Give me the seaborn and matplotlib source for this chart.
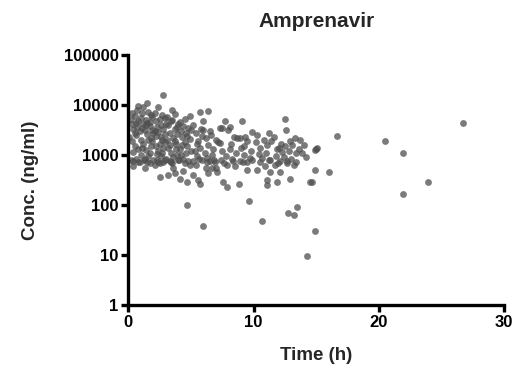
import matplotlib
matplotlib.use("Agg")
import matplotlib.pyplot as plt
import seaborn as sns
import pandas as pd
from matplotlib.ticker import FixedLocator, FixedFormatter, NullLocator

# Amprenavir concentration vs time
time_h = [
    # 0-1 h
    0.2, 0.3, 0.4, 0.5, 0.6, 0.3, 0.5, 0.7, 0.8, 0.9, 0.4, 0.6, 0.2, 0.8, 1.0, 1.0, 0.9, 0.5, 0.7, 0.3, 0.1, 0.6, 0.8, 0.4, 1.0,
    # 1-2 h
    1.1, 1.2, 1.3, 1.4, 1.5, 1.6, 1.7, 1.8, 1.9, 1.2, 1.4, 1.6, 1.8, 1.3, 1.5, 1.1, 1.7, 1.9, 2.0, 1.2, 1.5, 1.8, 1.3, 1.9, 1.6, 1.1, 1.4, 1.7, 2.0, 1.5,
    # 2-3 h
    2.1, 2.2, 2.3, 2.4, 2.5, 2.6, 2.7, 2.8, 2.9, 3.0, 2.2, 2.4, 2.6, 2.8, 2.3, 2.5, 2.7, 2.9, 2.1, 2.4, 2.8, 2.6, 2.9, 2.2, 2.5, 2.7, 3.0, 2.3, 2.8, 2.1, 2.55,
    # 3-4 h
    3.1, 3.2, 3.3, 3.4, 3.5, 3.6, 3.7, 3.8, 3.9, 4.0, 3.2, 3.4, 3.6, 3.8, 3.3, 3.5, 3.7, 3.9, 3.1, 3.5, 3.7, 3.2, 3.75, 3.9, 3.3, 4.0, 3.6,
    # 4-5 h
    4.1, 4.2, 4.3, 4.4, 4.5, 4.6, 4.7, 4.8, 4.9, 5.0, 4.2, 4.4, 4.6, 4.8, 4.3, 4.95, 4.5, 4.15, 4.68, 4.68, 4.9, 4.4, 4.7, 4.1, 5.0,
    # 5-7 h
    5.2, 5.4, 5.6, 5.8, 6.0, 6.2, 6.4, 6.6, 6.8, 7.0, 5.3, 5.5, 5.7, 5.9, 6.1, 6.3, 6.5, 6.7, 6.9, 5.74, 6.4, 6.0, 5.2, 5.74, 5.6, 6.4, 6.68, 7.08, 6.0, 5.5, 6.5, 5.9, 6.2, 5.4,
    # 7-10 h
    7.2, 7.34, 7.34, 7.47, 7.72, 8.0, 8.14, 8.4, 8.66, 8.94, 9.05, 9.2, 9.5, 9.87, 7.5, 7.8, 8.1, 8.3, 8.6, 8.9, 9.2, 9.5, 9.8, 7.6, 7.87, 8.8, 9.47, 7.9, 8.5, 9.6, 7.4, 8.2, 9.0, 9.7, 7.0, 9.3,
    # 10-13.7 h
    10.2, 10.5, 10.8, 11.1, 11.4, 11.6, 11.9, 12.2, 12.5, 12.8, 13.1, 13.4, 10.4, 10.7, 11.0, 11.3, 11.8, 12.1, 12.4, 12.7, 13.0, 13.3, 13.7, 12.5, 12.6, 10.27, 11.07, 11.07, 11.87, 11.33, 12.12, 12.93, 13.2, 10.67, 12.74, 13.24, 13.5, 11.2, 12.0, 12.9, 10.9, 11.7, 13.6, 12.3, 10.3,
    # band of trough samples around 700-850 ng/ml
    0.35, 0.75, 1.25, 1.75, 2.35, 2.95, 3.45, 4.05, 4.55, 5.15, 5.65, 6.25, 6.85, 7.65, 8.35, 9.15, 9.85, 10.55, 11.25, 11.95, 12.65, 13.35,
    # late samples
    13.86, 14.26, 14.5, 14.66, 14.9, 14.9, 14.9, 14.98, 15.05, 16.0, 16.65, 20.5, 21.96, 21.9, 23.96, 26.75, 14.2, 14.0,
]

conc = [
    # 0-1 h
    5200, 4100, 3300, 6100, 2500, 1900, 1500, 8000, 4700, 3000, 1150, 850, 780, 1300, 5600, 2000, 720, 2800, 3600, 7000, 2300, 4400, 9500, 600, 1000,
    # 1-2 h
    6800, 4200, 3100, 5000, 2600, 7400, 3800, 2200, 5800, 1700, 1250, 960, 1500, 820, 730, 3500, 4600, 3200, 2700, 9000, 11000, 6300, 560, 1900, 2000, 1400, 3900, 1100, 800, 4300,
    # 2-3 h
    7000, 4800, 3600, 2900, 5300, 2300, 6300, 3300, 1800, 4200, 1500, 1200, 950, 1400, 780, 690, 2000, 2600, 3000, 9330, 15850, 4000, 5600, 2400, 1700, 1100, 850, 1050, 720, 620, 370,
    # 3-4 h
    5800, 3900, 2800, 4700, 8000, 2200, 3300, 1700, 2600, 4200, 1400, 1100, 900, 1300, 750, 680, 1900, 3600, 2000, 5100, 6600, 400, 430, 1000, 1600, 780, 540,
    # 4-5 h
    4600, 3000, 2300, 3800, 1800, 2700, 1500, 3400, 2100, 1200, 1000, 850, 1100, 760, 1600, 6000, 5200, 340, 290, 100, 620, 480, 2400, 1300, 3100,
    # 5-7 h
    4000, 2700, 1900, 3300, 4690, 2200, 1600, 2500, 1300, 2000, 1200, 950, 1400, 780, 1100, 870, 760, 1000, 740, 7300, 7700, 3160, 400, 270, 315, 430, 540, 465, 38.6, 1700, 3000, 2400, 560, 640,
    # 7-10 h
    1800, 3400, 1720, 3400, 4690, 3160, 3660, 2330, 2150, 2150, 4900, 1500, 1900, 2930, 1200, 950, 1300, 820, 1100, 760, 1000, 720, 1200, 290, 230, 270, 500, 640, 600, 120, 800, 1700, 1400, 870, 540, 2300,
    # 10-13.7 h
    1800, 1400, 2000, 1600, 1900, 2330, 1300, 1700, 1500, 1200, 1600, 1100, 1050, 870, 1100, 800, 950, 760, 900, 700, 820, 2150, 2000, 5200, 3160, 500, 315, 250, 290, 465, 465, 340, 630, 48.6, 68, 63, 92, 2700, 1400, 1900, 600, 640, 1300, 1150, 2500,
    # band of trough samples around 700-850 ng/ml
    760, 720, 790, 700, 740, 810, 720, 780, 700, 760, 820, 730, 790, 710, 770, 740, 800, 720, 780, 700, 760, 730,
    # late samples
    1080, 9.5, 295, 290, 500, 30.6, 1260, 1310, 1380, 465, 2410, 1930, 1080, 165, 295, 4330, 900, 1600,
]

y_ticks = [1, 10, 100, 1000, 10000, 100000]
y_tick_labels = ["1", "10", "100", "1000", "10000", "100000"]
x_ticks = [0, 10, 20, 30]

df = pd.DataFrame({"time": time_h, "conc": conc})

sns.set_style("ticks")
plt.rcParams["font.family"] = ["Liberation Sans", "DejaVu Sans"]
plt.rcParams["font.weight"] = "bold"

fig = plt.figure(figsize=(5.15, 3.74), dpi=100)
ax = fig.add_axes([0.249, 0.184, 0.730, 0.669])

sns.scatterplot(data=df, x="time", y="conc", ax=ax, color="#4f4f4f",
                alpha=0.75, s=24, linewidth=0, marker="o", legend=False)

ax.set_yscale("log")
ax.set_ylim(1, 100000)
ax.set_xlim(0, 30)
ax.yaxis.set_major_locator(FixedLocator(y_ticks))
ax.yaxis.set_major_formatter(FixedFormatter(y_tick_labels))
ax.yaxis.set_minor_locator(NullLocator())
ax.set_xticks(x_ticks)

for side in ["top", "right"]:
    ax.spines[side].set_visible(False)
for side in ["left", "bottom"]:
    ax.spines[side].set_linewidth(2.4)
    ax.spines[side].set_color("black")

ax.tick_params(axis="both", which="major", length=5, width=2.4,
               labelsize=12, colors="black", pad=2)
for lab in ax.get_xticklabels() + ax.get_yticklabels():
    lab.set_fontweight("bold")

ax.set_title("Amprenavir", fontsize=15, fontweight="bold", pad=20)
ax.set_xlabel("Time (h)", fontsize=13.5, fontweight="bold", labelpad=12)
ax.set_ylabel("Conc. (ng/ml)", fontsize=13.5, fontweight="bold", labelpad=18)

fig.savefig("out.png", dpi=100)
